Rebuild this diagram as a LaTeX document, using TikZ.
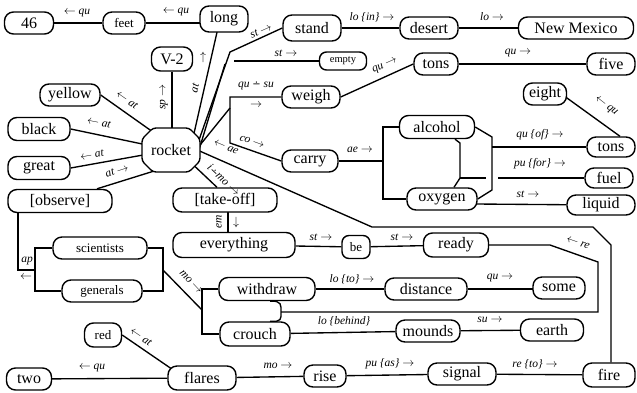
\documentclass[tikz,border=0pt]{standalone}
\usepackage{fontspec}
\setmainfont{Liberation Serif}
\newfontfamily\symfnt{DejaVu Sans}
\usetikzlibrary{calc}
\pgfdeclarelayer{back}
\pgfdeclarelayer{bg}
\pgfsetlayers{back,bg,main}
\newcommand{\dminus}{{\upshape\symfnt\fontsize{10}{10}\selectfont ∸}}
\tikzset{
  box/.style={draw, fill=white, line width=1.4pt, rounded corners=9pt, inner sep=0pt, minimum height=22pt, font=\fontsize{16}{16}\selectfont},
  sbox/.style={box, font=\fontsize{13}{13}\selectfont},
  lab/.style={font=\fontsize{11.5}{11.5}\selectfont\itshape, inner sep=0.5pt},
  conn/.style={line width=1.35pt},
}
\begin{document}
\begin{tikzpicture}[x=1pt,y=-1pt]
\useasboundingbox (0,0) rectangle (637,392);
\begin{pgfonlayer}{back}
\fill[white] (0,0) rectangle (637,392);
\end{pgfonlayer}
% nodes
\node[box, minimum width=49pt] (n46) at (29,23) {46};
\node[sbox, minimum width=42pt] (feet) at (124,23) {feet};
\node[box, minimum width=48pt, minimum height=26pt] (long) at (224,19) {long};
\node[box, minimum width=58pt, minimum height=26pt] (stand) at (312,28) {stand};
\node[box, minimum width=58pt] (desert) at (429,28) {desert};
\node[box, minimum width=115pt] (nm) at (576,28) {New Mexico};
\node[box, minimum width=41pt, minimum height=24pt] (v2) at (172,59) {V-2};
\node[box, minimum width=47pt, minimum height=18pt, rounded corners=7pt, font=\fontsize{10.5}{10.5}\selectfont] (empty) at (343,61) {empty};
\node[box, minimum width=44pt] (tonsa) at (436,64) {tons};
\node[box, minimum width=48pt] (five) at (611,64) {five};
\node[box, minimum width=60pt] (yellow) at (70,95) {yellow};
\node[box, minimum width=58pt] (weigh) at (311,97) {weigh};
\node[box, minimum width=43pt] (eight) at (545,94) {eight};
\node[box, minimum width=62pt, minimum height=23pt] (black) at (39,129) {black};
\node[box, minimum width=75pt, minimum height=23pt] (alcohol) at (437,127) {alcohol};
\node[box, minimum width=48pt, minimum height=20pt] (tonsb) at (611,147) {tons};
\node[box, minimum width=56pt] (carry) at (310,161) {carry};
\node[box, minimum width=62pt, minimum height=23pt] (great) at (39,168) {great};
\node[box, minimum width=48pt, minimum height=20pt] (fuel) at (609,178) {fuel};
\node[box, minimum width=104pt, minimum height=23pt] (observe) at (60,201) {[observe]};
\node[box, minimum width=104pt, minimum height=24pt] (takeoff) at (225,200) {[take-off]};
\node[box, minimum width=70pt] (oxygen) at (442,199) {oxygen};
\node[box, minimum width=68pt, minimum height=20pt] (liquid) at (601,205) {liquid};
\node[sbox, minimum width=94pt] (scientists) at (100,248) {scientists};
\node[box, minimum width=122pt, minimum height=25pt] (everything) at (234,245) {everything};
\node[sbox, minimum width=28pt, minimum height=23pt, rounded corners=7pt] (be) at (356,247) {be};
\node[box, minimum width=65pt, minimum height=24pt] (ready) at (456,245) {ready};
\node[sbox, minimum width=80pt] (generals) at (102,291) {generals};
\node[box, minimum width=96pt, minimum height=23pt] (withdraw) at (267,289) {withdraw};
\node[box, minimum width=82pt] (distance) at (426,289) {distance};
\node[box, minimum width=52pt] (some) at (559,288) {some};
\node[box, minimum width=70pt, minimum height=24pt] (crouch) at (255,334) {crouch};
\node[box, minimum width=64pt] (mounds) at (428,331) {mounds};
\node[box, minimum width=63pt] (earth) at (552,330) {earth};
\node[sbox, minimum width=37pt, minimum height=24pt] (red) at (103,335) {red};
\node[box, minimum width=45pt] (two) at (29,379) {two};
\node[box, minimum width=68pt, minimum height=24pt] (flares) at (202,378) {flares};
\node[box, minimum width=42pt] (rise) at (325,376) {rise};
\node[box, minimum width=68pt] (signal) at (462,374) {signal};
\node[box, minimum width=52pt, minimum height=24pt] (fire) at (609,375) {fire};
% rocket
\coordinate (rk) at (171,150);
\draw[line width=1.4pt, fill=white, rounded corners=3pt] (153,128) -- (189,128) -- (200,139) -- (200,161) -- (189,172) -- (153,172) -- (142,161) -- (142,139) -- cycle;
\node[font=\fontsize{16}{16}\selectfont] (rocket) at (rk) {rocket};
% coordinates
\coordinate (sb) at (230,52);
\coordinate (eb) at (225,64);
\coordinate (ea) at (234,61);
\coordinate (sp1) at (230,97);
\coordinate (sp2) at (230,108);
\coordinate (sp3) at (230,143);
\coordinate (a1) at (372,227);
\coordinate (a2) at (593,227);
\coordinate (a3) at (611,245);
\coordinate (r1) at (550,245);
\coordinate (r2) at (598,262);
\coordinate (r3) at (598,312);
\coordinate (br) at (281,312);
\coordinate (wb1) at (202,289);
\coordinate (wb2) at (202,334);
\coordinate (sg1) at (35,248);
\coordinate (sg2) at (35,291);
\coordinate (sg3) at (163,248);
\coordinate (sg4) at (163,291);
\coordinate (ap1) at (18,270);
\coordinate (ap2) at (35,270);
\coordinate (mo1) at (163,270);
\coordinate (mo2) at (202,310);
\coordinate (cb1) at (383,127);
\coordinate (cb2) at (383,161);
\coordinate (cb3) at (383,199);
\coordinate (ob1) at (492,137);
\coordinate (ob2) at (492,190);
\coordinate (ob3) at (492,147);
\coordinate (ib1) at (460,143);
\coordinate (ib2) at (460,178);
\coordinate (ib3) at (486,178);
\coordinate (ib4) at (498,178);
% connectors
\begin{pgfonlayer}{bg}
\draw[conn] (n46) -- (feet);
\draw[conn] (feet) -- (feet -| long);
\draw[conn] ($(rk)+(21.5,-10)$) -- ($(long)+(-4,0)$);
\draw[conn] (v2) -- (v2 |- rk);
\draw[conn] (yellow.east) -- ($(rk)+(-11,-13)$);
\draw[conn] (black.east) -- (rk);
\draw[conn] (great.east) -- (rk);
\draw[conn] ($(rk)+(-4,17)$) -- ($(observe.north)+(37,0)$);
\draw[conn] ($(rk)+(28,-10)$) -- (sb) -- (stand.west);
\draw[conn] ($(rk)+(28,0)$) -- (eb);
\draw[conn] (ea) -- (empty.west);
\draw[conn] ($(rk)+(25,0)$) -- (sp2);
\draw[conn] (weigh.west) -- (sp1) -- (sp3) -- (carry.west);
\draw[conn] ($(rk)+(15,-5)$) -- (a1) -- (a2) -- (a3) -- (a3 |- fire.north);
\draw[conn] ($(rk)+(15,8)$) -- ($(takeoff.north)+(-8,0)$);
\draw[conn] ($(takeoff)+(3,0)$) -- ($(everything)+(-6,0)$);
\draw[conn] (everything) -- (be);
\draw[conn] (be) -- (ready);
\draw[conn] (ready) -- (r1) -- (r2) -- (r3) -- (br);
\draw[conn] ($(withdraw.south)+(3,0)$) .. controls (282,300.5) and (281,305) .. (br) .. controls (281,319) and (282,322) .. ($(crouch.north)+(15,0)$);
\draw[conn] (withdraw.west) -- (wb1) -- (wb2) -- (crouch.west);
\draw[conn] (scientists.west) -- (sg1) -- (sg2) -- (generals.west);
\draw[conn] (scientists.east) -- (sg3) -- (sg4) -- (generals.east);
\draw[conn] ($(observe.south)+(-42,0)$) -- (ap1) -- (ap2);
\draw[conn] (mo1) -- (mo2);
\draw[conn] (withdraw) -- (distance);
\draw[conn] (distance) -- (distance -| some);
\draw[conn] (crouch) -- (mounds);
\draw[conn] (mounds) -- (earth);
\draw[conn] (two) -- (flares);
\draw[conn] (red.east) -- ($(flares)+(-20,-2)$);
\draw[conn] (flares) -- (rise);
\draw[conn] (rise) -- (signal);
\draw[conn] (signal) -- (fire);
\draw[conn] (stand) -- (desert);
\draw[conn] (desert) -- (nm);
\draw[conn] (weigh.east) -- (tonsa.west);
\draw[conn] (tonsa) -- (five);
\draw[conn] ($(eight.east)+(-3,2)$) -- ($(tonsb.north)+(9,0)$);
\draw[conn] (carry) -- (cb2);
\draw[conn] (alcohol.west) -- (cb1) -- (cb3) -- (oxygen.west);
\draw[conn] (alcohol.east) -- (ob1) -- (ob2) -- (oxygen.east);
\draw[conn] (ob3) -- (tonsb);
\draw[conn] ($(alcohol.south)+(18,0)$) -- (ib1) -- (ib2) -- ($(oxygen.north)+(12,0)$);
\draw[conn] (ib2) -- (ib3);
\draw[conn] (ib4) -- (fuel);
\draw[conn] ($(oxygen.east)+(-2,5)$) -- (liquid);
\end{pgfonlayer}
% labels
\node[lab] (l1) at (77,13) {$\leftarrow$ qu};
\node[lab] (l2) at (176,12) {$\leftarrow$ qu};
\node[lab, rotate=77] (l3) at (195,88) {at};
\node[lab] (l3a) at (203,57) {$\uparrow$};
\node[lab, rotate=90] (l4) at (164,97) {sp $\rightarrow$};
\node[lab, rotate=-35] (l5) at (127,100) {$\leftarrow$ at};
\node[lab, rotate=-11] (l6) at (99,123) {$\leftarrow$ at};
\node[lab, rotate=10] (l7) at (92,155) {$\leftarrow$ at};
\node[lab, rotate=18] (l8) at (117,171) {at $\rightarrow$};
\node[lab, rotate=24] (l9) at (261,31) {st $\rightarrow$};
\node[lab] (l10) at (286,53) {st $\rightarrow$};
\node[lab] (l11) at (256,86) {qu \dminus{} su};
\node[lab] (l11a) at (256,105) {$\rightarrow$};
\node[lab, rotate=-20] (l12) at (252,142) {co $\rightarrow$};
\node[lab, rotate=-23] (l13) at (226,147) {$\leftarrow$ ae};
\node[lab, rotate=-43] (l14) at (224,180) {i\dminus{}mo $\rightarrow$};
\node[lab, rotate=90] (l15) at (219,222) {em};
\node[lab] (l15a) at (236,222) {$\downarrow$};
\node[lab] (l16) at (372,17) {lo \{in\} $\rightarrow$};
\node[lab] (l17) at (492,17) {lo $\rightarrow$};
\node[lab, rotate=24] (l18) at (385,66) {qu $\rightarrow$};
\node[lab] (l19) at (518,53) {qu $\rightarrow$};
\node[lab, rotate=-38] (l20) at (606,106) {$\leftarrow$ qu};
\node[lab] (l21) at (360,150) {ae $\rightarrow$};
\node[lab] (l22) at (540,135) {qu \{of\} $\rightarrow$};
\node[lab] (l23) at (540,164) {pu \{for\} $\rightarrow$};
\node[lab] (l24) at (528,194) {st $\rightarrow$};
\node[lab] (l25) at (321,237) {st $\rightarrow$};
\node[lab] (l26) at (402,237) {st $\rightarrow$};
\node[lab, rotate=-19] (l27) at (578,243) {$\leftarrow$ re};
\node[lab] (l28) at (27,261) {ap};
\node[lab] (l28a) at (26,277) {$\leftarrow$};
\node[lab, rotate=-47] (l29) at (191,282) {mo $\rightarrow$};
\node[lab] (l30) at (352,279) {lo \{to\} $\rightarrow$};
\node[lab] (l31) at (500,278) {qu $\rightarrow$};
\node[lab] (l32) at (344,321) {lo \{behind\}};
\node[lab] (l33) at (490,320) {su $\rightarrow$};
\node[lab, rotate=-34] (l34) at (141,337) {$\leftarrow$ at};
\node[lab] (l35) at (92,368) {$\leftarrow$ qu};
\node[lab] (l36) at (278,366) {mo $\rightarrow$};
\node[lab] (l37) at (390,364) {pu \{as\} $\rightarrow$};
\node[lab] (l38) at (535,364) {re \{to\} $\rightarrow$};
\end{tikzpicture}
\end{document}
